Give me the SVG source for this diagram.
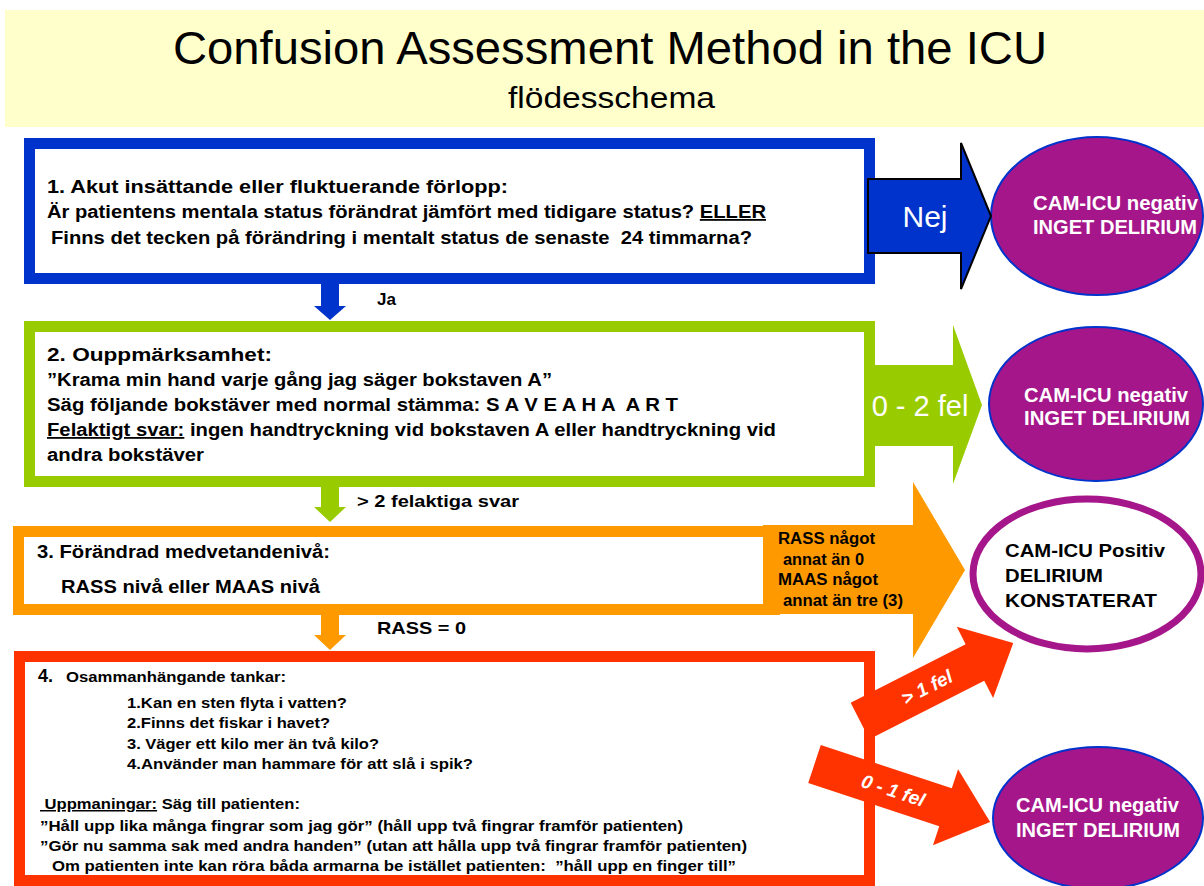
<svg xmlns="http://www.w3.org/2000/svg" width="1204" height="886" viewBox="0 0 1204 886">
  <style>
    text { font-family: "Liberation Sans", Arial, sans-serif; }
    .body { font-size: 18px; font-weight: bold; fill: #000; }
    .small { font-size: 15px; font-weight: bold; fill: #000; }
    .lbl { font-size: 17px; font-weight: bold; fill: #000; }
    .ell { font-size: 20px; font-weight: bold; fill: #fff; }
    .pos { font-size: 19px; font-weight: bold; fill: #000; }
    .arr { font-size: 16px; font-weight: bold; fill: #000; }
    .rot { font-size: 19px; font-weight: bold; font-style: italic; fill: #fff; }
    .u { text-decoration: underline; }
    .box { fill: #fff; stroke-width: 11; }
  </style>

  <!-- heading band -->
  <g id="title">
    <rect x="5" y="10" width="1199" height="117" fill="#FFFFCC"/>
    <text x="173" y="64" font-size="46" textLength="874" lengthAdjust="spacingAndGlyphs">Confusion Assessment Method in the ICU</text>
    <text x="508" y="108" font-size="30" textLength="207" lengthAdjust="spacingAndGlyphs">flödesschema</text>
  </g>

  <!-- step 1 -->
  <g id="step1">
    <rect class="box" x="29.5" y="143.5" width="840" height="135" stroke="#0033CC"/>
    <text class="body" x="47" y="193" textLength="461" lengthAdjust="spacingAndGlyphs">1. Akut insättande eller fluktuerande förlopp:</text>
    <text class="body" x="47" y="218" textLength="719" lengthAdjust="spacingAndGlyphs">Är patientens mentala status förändrat jämfört med tidigare status? <tspan class="u">ELLER</tspan></text>
    <text class="body" x="51" y="244" textLength="701" lengthAdjust="spacingAndGlyphs" xml:space="preserve">Finns det tecken på förändring i mentalt status de senaste  24 timmarna?</text>
  </g>

  <!-- step 2 -->
  <g id="step2">
    <rect class="box" x="29.5" y="326.5" width="840" height="155" stroke="#99CC00"/>
    <text class="body" x="47" y="361" textLength="225" lengthAdjust="spacingAndGlyphs">2. Ouppmärksamhet:</text>
    <text class="body" x="47" y="386" textLength="505" lengthAdjust="spacingAndGlyphs">”Krama min hand varje gång jag säger bokstaven A”</text>
    <text class="body" x="47" y="411" textLength="631" lengthAdjust="spacingAndGlyphs" xml:space="preserve">Säg följande bokstäver med normal stämma: S A V E A H A  A R T</text>
    <text class="body" x="47" y="436" textLength="729" lengthAdjust="spacingAndGlyphs"><tspan class="u">Felaktigt svar:</tspan> ingen handtryckning vid bokstaven A eller handtryckning vid</text>
    <text class="body" x="47" y="461" textLength="157" lengthAdjust="spacingAndGlyphs">andra bokstäver</text>
  </g>

  <!-- step 3 -->
  <g id="step3">
    <rect class="box" x="18.5" y="531.5" width="756" height="78" stroke="#FF9900"/>
    <text class="body" x="37" y="558" textLength="293" lengthAdjust="spacingAndGlyphs">3. Förändrad medvetandenivå:</text>
    <text class="body" x="61" y="593" textLength="259" lengthAdjust="spacingAndGlyphs">RASS nivå eller MAAS nivå</text>
  </g>

  <!-- step 4 -->
  <g id="step4">
    <rect class="box" x="19.5" y="656.5" width="850" height="224" stroke="#FF3300"/>
    <text class="small" x="38" y="682"><tspan font-size="18">4.</tspan><tspan x="66" textLength="220" lengthAdjust="spacingAndGlyphs">Osammanhängande tankar:</tspan></text>
    <text class="small" x="127" y="708" textLength="220" lengthAdjust="spacingAndGlyphs">1.Kan en sten flyta i vatten?</text>
    <text class="small" x="127" y="728" textLength="203" lengthAdjust="spacingAndGlyphs">2.Finns det fiskar i havet?</text>
    <text class="small" x="127" y="749" textLength="252" lengthAdjust="spacingAndGlyphs">3. Väger ett kilo mer än två kilo?</text>
    <text class="small" x="127" y="769" textLength="346" lengthAdjust="spacingAndGlyphs">4.Använder man hammare för att slå i spik?</text>
    <text class="small" x="40" y="809" textLength="260" lengthAdjust="spacingAndGlyphs" xml:space="preserve"><tspan class="u"> Uppmaningar:</tspan> Säg till patienten:</text>
    <text class="small" x="40" y="831" textLength="643" lengthAdjust="spacingAndGlyphs">”Håll upp lika många fingrar som jag gör” (håll upp två fingrar framför patienten)</text>
    <text class="small" x="40" y="851" textLength="707" lengthAdjust="spacingAndGlyphs">”Gör nu samma sak med andra handen” (utan att hålla upp två fingrar framför patienten)</text>
    <text class="small" x="52" y="871" textLength="684" lengthAdjust="spacingAndGlyphs" xml:space="preserve">Om patienten inte kan röra båda armarna be istället patienten:  ”håll upp en finger till”</text>
  </g>

  <!-- outcomes -->
  <g id="outcome-negative-1">
    <ellipse cx="1097" cy="216" rx="106" ry="79" fill="#A5168A" stroke="#0033CC" stroke-width="2"/>
    <text class="ell" x="1033" y="210" textLength="165" lengthAdjust="spacingAndGlyphs">CAM-ICU negativ</text>
    <text class="ell" x="1033" y="234" textLength="164" lengthAdjust="spacingAndGlyphs">INGET DELIRIUM</text>
  </g>
  <g id="outcome-negative-2">
    <ellipse cx="1096" cy="404" rx="107" ry="77" fill="#A5168A" stroke="#0033CC" stroke-width="2"/>
    <text class="ell" x="1024" y="402" textLength="164" lengthAdjust="spacingAndGlyphs">CAM-ICU negativ</text>
    <text class="ell" x="1024" y="425" textLength="166" lengthAdjust="spacingAndGlyphs">INGET DELIRIUM</text>
  </g>
  <g id="outcome-positive">
    <ellipse cx="1087" cy="574" rx="114" ry="75" fill="#fff" stroke="#A5168A" stroke-width="7"/>
    <text class="pos" x="1005" y="557" textLength="160" lengthAdjust="spacingAndGlyphs">CAM-ICU Positiv</text>
    <text class="pos" x="1005" y="582" textLength="98" lengthAdjust="spacingAndGlyphs">DELIRIUM</text>
    <text class="pos" x="1005" y="607" textLength="152" lengthAdjust="spacingAndGlyphs">KONSTATERAT</text>
  </g>
  <g id="outcome-negative-3">
    <ellipse cx="1098" cy="818" rx="105" ry="71" fill="#A5168A" stroke="#0033CC" stroke-width="2"/>
    <text class="ell" x="1016" y="812" textLength="163" lengthAdjust="spacingAndGlyphs">CAM-ICU negativ</text>
    <text class="ell" x="1016" y="837" textLength="164" lengthAdjust="spacingAndGlyphs">INGET DELIRIUM</text>
  </g>

  <!-- connectors -->
  <g id="connectors">
    <!-- downward "yes" arrows between steps -->
    <polygon points="321,284 339,284 339,306 346,306 330,320 314,306 321,306" fill="#0033CC"/>
    <text class="lbl" x="377" y="305">Ja</text>
    <polygon points="321,487 339,487 339,507 346,507 330,522 314,507 321,507" fill="#99CC00"/>
    <text class="lbl" x="357" y="507" textLength="162" lengthAdjust="spacingAndGlyphs">&gt; 2 felaktiga svar</text>
    <polygon points="321,615 339,615 339,635 346,635 330,650 314,635 321,635" fill="#FF9900"/>
    <text class="lbl" x="377" y="634" textLength="89" lengthAdjust="spacingAndGlyphs">RASS = 0</text>

    <!-- step 1 -> negative -->
    <polygon points="868,179 961,179 961,143 991,216 961,289 961,253 868,253" fill="#0033CC" stroke="#000" stroke-width="2" stroke-linejoin="miter"/>
    <text x="925" y="227" font-size="30" fill="#fff" text-anchor="middle">Nej</text>

    <!-- step 2 -> negative -->
    <polygon points="864,365 953,365 953,325 982,405 953,484 953,446 864,446" fill="#99CC00"/>
    <text x="920" y="416" font-size="29" fill="#fff" text-anchor="middle">0 - 2 fel</text>

    <!-- step 3 -> positive -->
    <polygon points="763,525 913,525 913,482 965,570 913,658 913,614 763,614" fill="#FF9900"/>
    <text class="arr" x="778" y="544" textLength="97" lengthAdjust="spacingAndGlyphs">RASS något</text>
    <text class="arr" x="783" y="565" textLength="81" lengthAdjust="spacingAndGlyphs">annat än 0</text>
    <text class="arr" x="778" y="585" textLength="100" lengthAdjust="spacingAndGlyphs">MAAS något</text>
    <text class="arr" x="783" y="606" textLength="120" lengthAdjust="spacingAndGlyphs">annat än tre (3)</text>

    <!-- step 4 -> positive -->
    <g transform="translate(860,721) rotate(-27)">
      <polygon points="0,-20.5 129,-20.5 129,-40 172,0 129,40 129,20.5 0,20.5" fill="#FF3300"/>
      <text class="rot" x="75" y="7" text-anchor="middle">&gt; 1 fel</text>
    </g>
    <!-- step 4 -> negative -->
    <g transform="translate(814.5,764) rotate(18.3)">
      <polygon points="0,-20 138,-20 138,-40 185,0 138,40 138,20 0,20" fill="#FF3300"/>
      <text class="rot" x="83" y="7" text-anchor="middle">0 - 1 fel</text>
    </g>
  </g>
</svg>
